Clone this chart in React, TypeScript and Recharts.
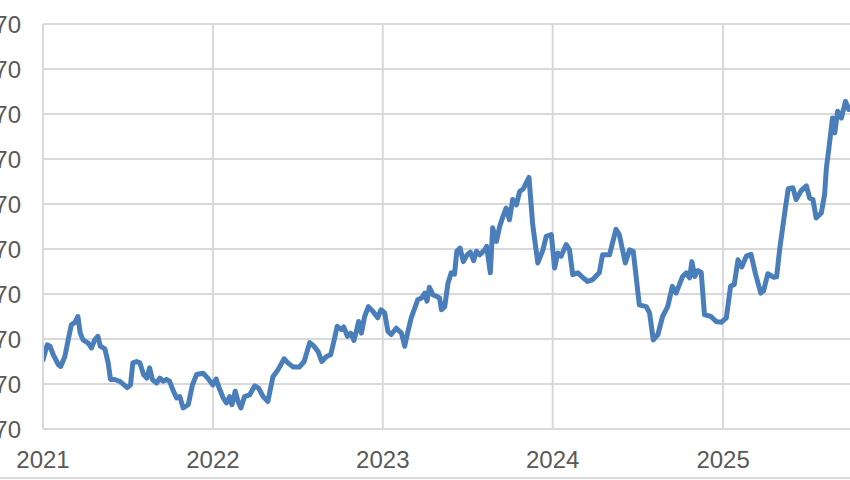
import React from "react";
import { LineChart, Line, XAxis, YAxis, CartesianGrid } from "recharts";

// weekly-ish closes
const dates = [
  "2021-01-01", "2021-01-10", "2021-01-16", "2021-01-23", "2021-02-03", "2021-02-08", "2021-02-17", "2021-02-24",
  "2021-03-03", "2021-03-10", "2021-03-17", "2021-03-22", "2021-03-28", "2021-04-08", "2021-04-15", "2021-04-22",
  "2021-04-29", "2021-05-04", "2021-05-14", "2021-05-21", "2021-05-26", "2021-06-04", "2021-06-15", "2021-07-01",
  "2021-07-08", "2021-07-13", "2021-07-21", "2021-07-28", "2021-08-05", "2021-08-12", "2021-08-18", "2021-08-24",
  "2021-09-02", "2021-09-09", "2021-09-16", "2021-09-23", "2021-09-30", "2021-10-07", "2021-10-15", "2021-10-22",
  "2021-10-29", "2021-11-09", "2021-11-18", "2021-11-27", "2021-12-11", "2021-12-21",
  "2022-01-01", "2022-01-08", "2022-01-13", "2022-01-23", "2022-01-30", "2022-02-06", "2022-02-11", "2022-02-18",
  "2022-02-24", "2022-03-02", "2022-03-10", "2022-03-21", "2022-04-01", "2022-04-09", "2022-04-19", "2022-04-29",
  "2022-05-10", "2022-05-21", "2022-06-03", "2022-06-11", "2022-06-22", "2022-07-06", "2022-07-16", "2022-07-28",
  "2022-08-06", "2022-08-15", "2022-08-23", "2022-09-02", "2022-09-11", "2022-09-19", "2022-09-25", "2022-10-04",
  "2022-10-09", "2022-10-17", "2022-10-24", "2022-10-31", "2022-11-05", "2022-11-10", "2022-11-16", "2022-11-23",
  "2022-12-01", "2022-12-11", "2022-12-21", "2022-12-28",
  "2023-01-05", "2023-01-12", "2023-01-19", "2023-01-30", "2023-02-10", "2023-02-17", "2023-02-24", "2023-03-03",
  "2023-03-17", "2023-03-25", "2023-04-01", "2023-04-06", "2023-04-11", "2023-04-19", "2023-04-26", "2023-05-03",
  "2023-05-07", "2023-05-14", "2023-05-21", "2023-05-28", "2023-06-04", "2023-06-09", "2023-06-16", "2023-06-23",
  "2023-07-01", "2023-07-08", "2023-07-15", "2023-07-21", "2023-07-28", "2023-08-08", "2023-08-12", "2023-08-20",
  "2023-08-25", "2023-09-02", "2023-09-09", "2023-09-16", "2023-09-23", "2023-09-30", "2023-10-07", "2023-10-15",
  "2023-10-22", "2023-10-30", "2023-11-11", "2023-11-19", "2023-11-30", "2023-12-11", "2023-12-18", "2023-12-29",
  "2024-01-05", "2024-01-12", "2024-01-19", "2024-01-30", "2024-02-06", "2024-02-13", "2024-02-24", "2024-03-06",
  "2024-03-16", "2024-03-27", "2024-04-10", "2024-04-17", "2024-05-02", "2024-05-16", "2024-05-23", "2024-06-05",
  "2024-06-14", "2024-06-22", "2024-07-05", "2024-07-20", "2024-07-27", "2024-08-04", "2024-08-14", "2024-08-24",
  "2024-09-04", "2024-09-14", "2024-09-22", "2024-10-06", "2024-10-14", "2024-10-21", "2024-10-26", "2024-11-01",
  "2024-11-08", "2024-11-15", "2024-11-22", "2024-12-06", "2024-12-17", "2024-12-28",
  "2025-01-08", "2025-01-17", "2025-01-25", "2025-02-02", "2025-02-10", "2025-02-20", "2025-03-02", "2025-03-12",
  "2025-03-23", "2025-03-29", "2025-04-07", "2025-04-20", "2025-04-26", "2025-05-03", "2025-05-14", "2025-05-21",
  "2025-05-31", "2025-06-07", "2025-06-18", "2025-06-29", "2025-07-06", "2025-07-13", "2025-07-20", "2025-07-31",
  "2025-08-07", "2025-08-11", "2025-08-16", "2025-08-24", "2025-08-29", "2025-09-04", "2025-09-12", "2025-09-21",
  "2025-09-28",
];

const closes = [
  1224, 1257, 1254, 1235, 1213, 1209, 1231, 1268, 1302, 1306, 1320, 1283, 1268, 1261, 1250, 1268,
  1276, 1254, 1248, 1217, 1180, 1180, 1176, 1162, 1168, 1217, 1220, 1217, 1191, 1183, 1206, 1180,
  1172, 1183, 1176, 1180, 1176, 1157, 1139, 1142, 1117, 1124, 1168, 1191, 1194, 1183,
  1168, 1181, 1165, 1139, 1128, 1142, 1124, 1154, 1131, 1117, 1142, 1146, 1166, 1161, 1142, 1131,
  1186, 1202, 1226, 1217, 1208, 1208, 1220, 1262, 1254, 1242, 1220, 1231, 1235, 1270, 1298, 1291,
  1297, 1276, 1283, 1267, 1287, 1309, 1283, 1320, 1342, 1331, 1317, 1335,
  1328, 1287, 1280, 1294, 1283, 1254, 1287, 1317, 1357, 1361, 1372, 1354, 1385, 1368, 1365, 1361,
  1335, 1342, 1394, 1417, 1414, 1465, 1472, 1442, 1457, 1463, 1444, 1465, 1457, 1468, 1476, 1417,
  1517, 1487, 1520, 1542, 1561, 1535, 1580, 1568, 1598, 1604, 1629, 1524, 1439, 1468, 1498, 1502,
  1428, 1461, 1454, 1480, 1468, 1413, 1417, 1406, 1398, 1402, 1417, 1457, 1457, 1514, 1502, 1439,
  1468, 1465, 1346, 1342, 1328, 1268, 1280, 1320, 1342, 1387, 1372, 1409, 1417, 1406, 1442, 1409,
  1422, 1418, 1324, 1320, 1309, 1307,
  1317, 1387, 1391, 1446, 1430, 1454, 1458, 1413, 1372, 1377, 1415, 1407, 1408, 1473, 1555, 1604,
  1606, 1580, 1600, 1610, 1583, 1580, 1539, 1550, 1591, 1651, 1691, 1761, 1728, 1776, 1761, 1798,
  1780,
];

const yearTicks = ["2021-01-01", "2022-01-01", "2023-01-01", "2024-01-01", "2025-01-01"];
const valueTicks = [1070, 1170, 1270, 1370, 1470, 1570, 1670, 1770, 1870, 1970];

const data = dates.map((d, i) => ({ t: Date.parse(d), v: closes[i] }));
const xTicks = yearTicks.map(d => Date.parse(d));
const xDomain = [Date.parse("2021-01-01"), Date.parse("2026-01-01")];

const tickStyle = { fontSize: 24, fill: "#595959", fontFamily: "'Liberation Sans', Arial, sans-serif" };

export default function App() {
  return (
    <div style={{ position: "absolute", left: 0, top: 0, width: 850, height: 480, overflow: "hidden", background: "#fff" }}>
      <div style={{ position: "absolute", left: -37, top: 0 }}>
        <LineChart width={930} height={480} data={data} margin={{ top: 24, right: 0, left: 0, bottom: 0 }}>
          <CartesianGrid stroke="#d9d9d9" strokeWidth={2} />
          <XAxis
            dataKey="t"
            type="number"
            domain={xDomain}
            ticks={xTicks}
            tickFormatter={v => String(new Date(v).getUTCFullYear())}
            tick={tickStyle}
            tickLine={false}
            tickSize={0}
            tickMargin={22}
            height={51}
            axisLine={{ stroke: "#d9d9d9", strokeWidth: 2 }}
            allowDataOverflow
          />
          <YAxis
            type="number"
            domain={[1070, 1970]}
            ticks={valueTicks}
            tick={tickStyle}
            tickLine={false}
            tickSize={0}
            tickMargin={22}
            width={80}
            axisLine={{ stroke: "#d9d9d9", strokeWidth: 2 }}
            interval={0}
          />
          <Line
            type="linear"
            dataKey="v"
            stroke="#4a7ebb"
            strokeWidth={5}
            strokeLinejoin="round"
            strokeLinecap="round"
            dot={false}
            isAnimationActive={false}
          />
        </LineChart>
      </div>
      <div style={{ position: "absolute", left: 0, top: 477, width: 850, height: 2, background: "#d9d9d9" }} />
    </div>
  );
}
